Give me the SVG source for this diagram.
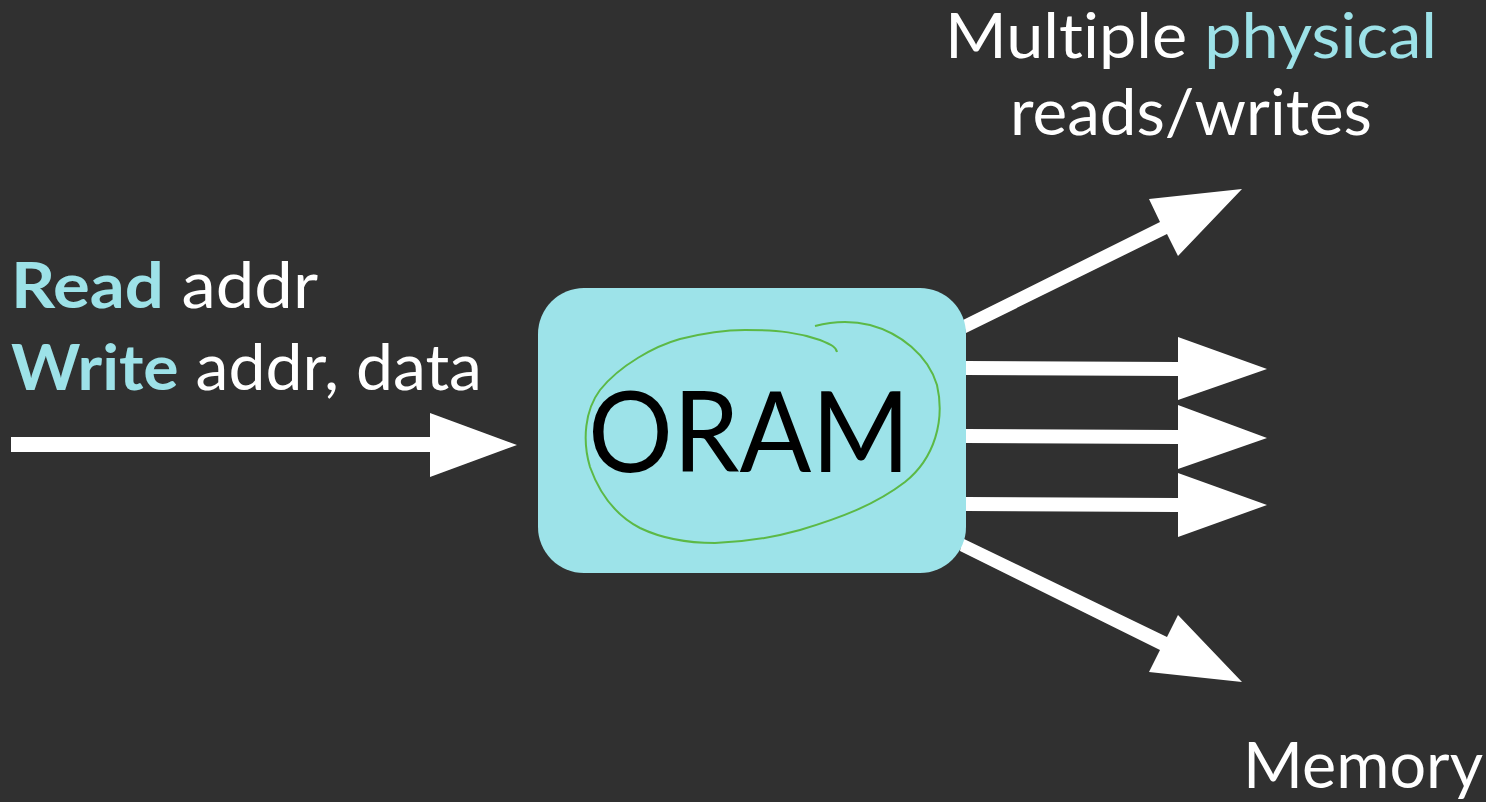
<svg xmlns="http://www.w3.org/2000/svg" width="1486" height="802" viewBox="0 0 1486 802">
<style>
.t{font-family:Lato,"Liberation Sans",sans-serif;fill:#ffffff;font-size:63px;font-variant-ligatures:none}
.c{fill:#9de2e8}
.b{font-weight:700}
.arr{fill:#ffffff}
</style>
<rect x="0" y="0" width="1486" height="802" fill="#303030"/>
<g id="input-label">
<text class="t" x="11" y="308" textLength="307" lengthAdjust="spacingAndGlyphs"><tspan class="c b">Read</tspan> addr</text>
<text class="t" x="11" y="390" textLength="471" lengthAdjust="spacingAndGlyphs"><tspan class="c b">Write</tspan> addr, data</text>
</g>
<g id="output-label">
<text class="t" x="945" y="58" font-size="61" textLength="492" lengthAdjust="spacingAndGlyphs" style="font-size:61px">Multiple <tspan class="c">physical</tspan></text>
<text class="t" x="1010" y="135" textLength="362" lengthAdjust="spacingAndGlyphs">reads/writes</text>
</g>
<g id="memory-label">
<text class="t" x="1243" y="788" textLength="240" lengthAdjust="spacingAndGlyphs">Memory</text>
</g>
<g id="connectors">
<polygon class="arr" points="11,437 430,437 430,413 517,445 430,477 430,452 11,452"/>
<polygon class="arr" points="963,320 1160,222 1149,199 1242,189 1178,256 1167,234 966,333"/>
<polygon class="arr" points="966,361 1178,362 1178,337 1267,369 1178,400 1178,376 966,375"/>
<polygon class="arr" points="966,429 1178,430 1178,405 1267,438 1178,469 1178,444 966,443"/>
<polygon class="arr" points="966,497 1178,498 1178,473 1267,505 1178,537 1178,512 966,511"/>
<polygon class="arr" points="962,538 1167,637 1178,615 1242,682 1149,672 1160,650 960,551"/>
</g>
<g id="oram">
<rect x="538" y="288" width="428" height="285" rx="46" fill="#9de3e9"/>
<text x="588" y="472" font-family="Lato,'Liberation Sans',sans-serif" font-weight="400" font-size="113" textLength="322" lengthAdjust="spacingAndGlyphs" fill="#000000">ORAM</text>
<path d="M837,352 C836,347 832,345 820,340 C800,333 780,330 745,330 C720,330 700,334 680,339 C655,346 620,365 600,390 C585,410 582,440 590,467 C600,495 615,515 640,528 C665,540 690,543 715,543 C745,542 775,537 800,530 C840,518 875,505 905,482 C935,458 945,420 937,385 C928,355 900,333 870,325 C850,320 830,322 815,326" fill="none" stroke="#5cb946" stroke-width="2"/>
</g>
</svg>
